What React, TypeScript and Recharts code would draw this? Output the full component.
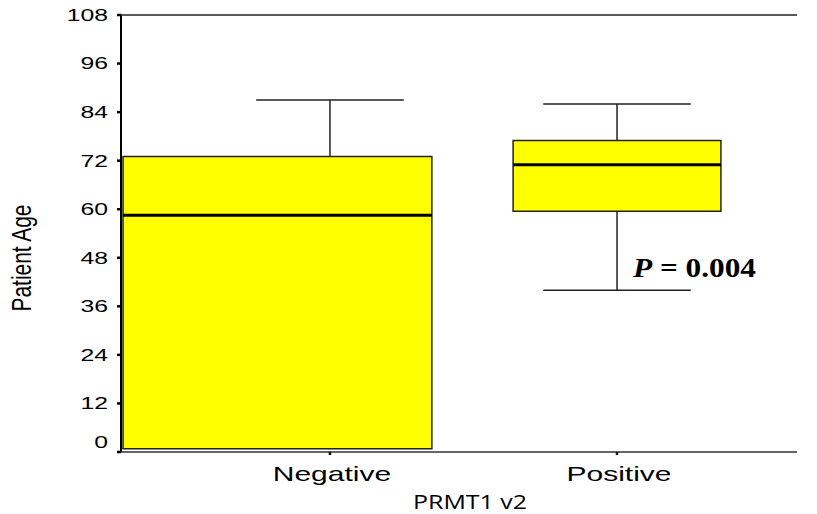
import {
  ComposedChart,
  XAxis,
  YAxis,
  Line,
  ReferenceArea,
  ReferenceLine,
  ReferenceDot,
} from "recharts";

/* data */
const categories = ["Negative", "Positive"];
const whiskerLow = [0.8, 40];
const quartile1 = [0.8, 59.5];
const medians = [58.5, 71];
const quartile3 = [73, 77];
const whiskerHigh = [87, 86];
const yTicks = [0, 12, 24, 36, 48, 60, 72, 84, 96, 108];
const pText = "0.004";
const pAnchorY = 43.3;

/* layout (x units: one category = 1) */
const BOX_LEFT = [0.721, 0.362];
const BOX_RIGHT = [0.355, 0.362];
const CAP_HALF = 0.257;
const SX = 1.5; // labels are stretched horizontally in the original

const xs = categories.map((_, i) => i + 1);
const rows = categories.map((c, i) => ({ x: xs[i], name: c, median: medians[i] }));

const YTick = (props: any) => {
  const { x, y, payload } = props;
  const dy = payload.value === 0 ? -10 : 0;
  return (
    <text
      transform={`translate(${x},${y + dy}) scale(${SX},1)`}
      textAnchor="end"
      dominantBaseline="central"
      fontSize={16.5}
      fontFamily="'Liberation Sans', Arial, sans-serif"
      fill="#000"
    >
      {payload.value}
    </text>
  );
};

const XTick = (props: any) => {
  const { x, y, payload } = props;
  const label = categories[Math.round(payload.value) - 1] ?? "";
  return (
    <text
      transform={`translate(${x + 2},${y + 24}) scale(${SX},1)`}
      textAnchor="middle"
      fontSize={20}
      fontFamily="'Liberation Sans', Arial, sans-serif"
      fill="#000"
    >
      {label}
    </text>
  );
};

const YLabel = () => (
  <text
    transform={`translate(31,258) scale(${SX},1) rotate(-90)`}
    x={-53.5}
    y={0}
    textLength={107}
    lengthAdjust="spacingAndGlyphs"
    fontSize={19}
    fontFamily="'Liberation Sans', Arial, sans-serif"
    fill="#000"
  >
    Patient Age
  </text>
);

const XLabel = (props: any) => {
  const { viewBox } = props;
  const cx = viewBox.x + viewBox.width / 2 + 11;
  return (
    <text
      x={cx - 57}
      y={509}
      textLength={114}
      lengthAdjust="spacingAndGlyphs"
      fontSize={19.5}
      fontFamily="'Open Sans', sans-serif"
      fill="#000"
    >
      PRMT1 v2
    </text>
  );
};

const PLabel = (props: any) => {
  const { viewBox } = props;
  const cx = viewBox.x + (viewBox.width || 0) / 2;
  const cy = viewBox.y + (viewBox.height || 0) / 2;
  return (
    <text
      x={cx + 16}
      y={cy}
      textLength={123}
      lengthAdjust="spacingAndGlyphs"
      fontSize={27}
      fontWeight="bold"
      fontFamily="'Liberation Serif', 'Times New Roman', serif"
      fill="#000"
    >
      <tspan fontStyle="italic">P</tspan>
      {` = ${pText}`}
    </text>
  );
};

export default function App() {
  return (
    <div style={{ position: "absolute", left: 0, top: 0, background: "#fff" }}>
      <ComposedChart
        width={817}
        height={514}
        data={rows}
        margin={{ top: 15, right: 20, bottom: 0, left: 0 }}
      >
        <XAxis
          dataKey="x"
          type="number"
          domain={[0.272, 2.627]}
          ticks={xs}
          height={62}
          tick={<XTick />}
          tickSize={3}
          tickLine={{ stroke: "#111", strokeWidth: 2.5 }}
          axisLine={{ stroke: "#333", strokeWidth: 1.5 }}
          allowDataOverflow
          label={<XLabel />}
        />
        <YAxis
          type="number"
          domain={[0, 108]}
          ticks={yTicks}
          width={121}
          tick={<YTick />}
          tickSize={4}
          tickMargin={9}
          tickLine={{ stroke: "#000", strokeWidth: 2.5 }}
          axisLine={{ stroke: "#000", strokeWidth: 2 }}
          allowDataOverflow
          label={<YLabel />}
        />
        <ReferenceLine y={108} stroke="#222" strokeWidth={1.5} />

        {xs.map((x, i) => (
          <ReferenceArea
            key={`box-${i}`}
            x1={x - BOX_LEFT[i]}
            x2={x + BOX_RIGHT[i]}
            y1={quartile1[i]}
            y2={quartile3[i]}
            fill="#ffff00"
            fillOpacity={1}
            stroke="#222"
            strokeWidth={1.5}
            ifOverflow="visible"
          />
        ))}
        {xs.map((x, i) => (
          <ReferenceLine
            key={`up-${i}`}
            segment={[
              { x, y: quartile3[i] },
              { x, y: whiskerHigh[i] },
            ]}
            stroke="#222"
            strokeWidth={1.5}
            ifOverflow="visible"
          />
        ))}
        {xs.map((x, i) => (
          <ReferenceLine
            key={`lo-${i}`}
            segment={[
              { x, y: quartile1[i] },
              { x, y: whiskerLow[i] },
            ]}
            stroke="#222"
            strokeWidth={1.5}
            ifOverflow="visible"
          />
        ))}
        {xs.map((x, i) => (
          <ReferenceLine
            key={`capHi-${i}`}
            segment={[
              { x: x - CAP_HALF, y: whiskerHigh[i] },
              { x: x + CAP_HALF, y: whiskerHigh[i] },
            ]}
            stroke="#222"
            strokeWidth={1.5}
            ifOverflow="visible"
          />
        ))}
        {xs.map((x, i) =>
          whiskerLow[i] < quartile1[i] ? (
            <ReferenceLine
              key={`capLo-${i}`}
              segment={[
                { x: x - CAP_HALF, y: whiskerLow[i] },
                { x: x + CAP_HALF, y: whiskerLow[i] },
              ]}
              stroke="#222"
              strokeWidth={1.5}
              ifOverflow="visible"
            />
          ) : null
        )}
        {xs.map((x, i) => (
          <ReferenceLine
            key={`med-${i}`}
            segment={[
              { x: x - BOX_LEFT[i], y: medians[i] },
              { x: x + BOX_RIGHT[i], y: medians[i] },
            ]}
            stroke="#000"
            strokeWidth={3}
            ifOverflow="visible"
          />
        ))}
        <Line
          dataKey="median"
          stroke="none"
          dot={false}
          activeDot={false}
          isAnimationActive={false}
        />
        <ReferenceDot
          x={xs[1]}
          y={pAnchorY}
          r={0}
          fill="none"
          stroke="none"
          label={<PLabel />}
        />
      </ComposedChart>
    </div>
  );
}
